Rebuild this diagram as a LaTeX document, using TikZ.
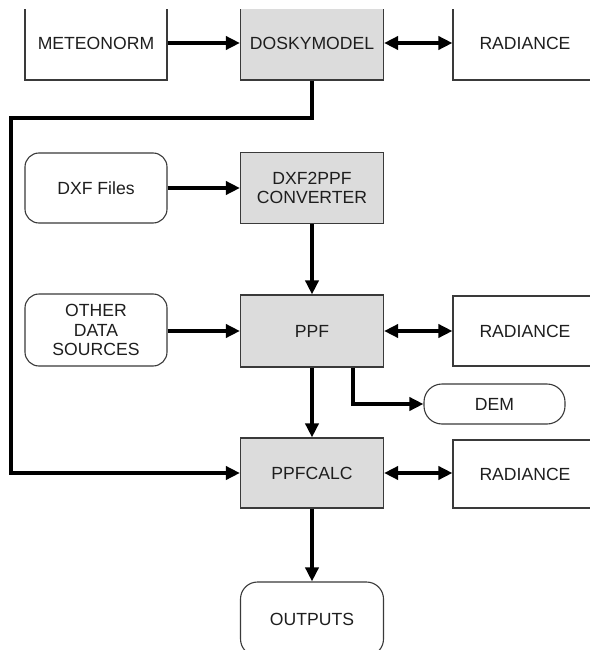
\documentclass[tikz,border=0pt]{standalone}
\usepackage{fontspec}
\setmainfont{Liberation Sans}
\usetikzlibrary{arrows.meta}
\definecolor{boxgray}{HTML}{DCDCDC}
\definecolor{bordercol}{HTML}{3A3A3A}
\definecolor{txtcol}{HTML}{1E1E1E}
\tikzset{
  box/.style={draw=bordercol, line width=1.1pt, minimum width=143pt, minimum height=71pt,
    inner sep=0pt, align=center, text=txtcol, font=\fontsize{17.6}{19.5}\selectfont},
  gbox/.style={box, fill=boxgray},
  rbox/.style={box, rounded corners=14pt},
  conn/.style={line width=3.6pt, black, -{Triangle[length=14pt,width=13pt]}},
  dconn/.style={line width=3.6pt, black, {Triangle[length=14pt,width=13pt]}-{Triangle[length=14pt,width=13pt]}},
}
\begin{document}
\begin{tikzpicture}[x=1pt,y=-1pt]
\useasboundingbox (0,0) rectangle (589,650);
\fill[white] (0,0) rectangle (589,650);
\begin{scope}
\clip (-5,10) rectangle (620,700);
\node[box, minimum height=74pt, minimum width=142pt] (met) at (96,43) {METEONORM};
\node[gbox, minimum height=74pt] (dsk) at (312,43) {DOSKYMODEL};
\node[box, minimum height=74pt, minimum width=144pt] (rad1) at (525,43) {RADIANCE};
\end{scope}
\node[rbox, minimum width=142pt, minimum height=70pt] (dxf) at (96,188) {DXF Files};
\node[gbox, minimum height=71pt] (conv) at (312,188) {DXF2PPF\\CONVERTER};
\node[rbox, minimum width=142pt, minimum height=72pt] (oth) at (96,330) {OTHER\\DATA\\SOURCES};
\node[gbox, minimum height=72pt] (ppf) at (312,331) {PPF};
\node[box, minimum height=70pt, minimum width=144pt] (rad2) at (525,331) {RADIANCE};
\node[box, rounded corners=18pt, minimum width=141pt, minimum height=40pt] (dem) at (494.5,404) {DEM};
\node[gbox, minimum height=70pt] (calc) at (312,473) {PPFCALC};
\node[box, minimum height=68pt, minimum width=144pt] (rad3) at (525,474) {RADIANCE};
\node[box, rounded corners=17pt, minimum height=74pt] (out) at (312,619) {OUTPUTS};
\coordinate (c1) at (11,118);
\draw[conn] (met) -- (dsk);
\draw[dconn] (dsk) -- (rad1);
\draw[conn] (dsk.south) |- (c1) |- (calc.west);
\draw[conn] (dxf) -- (conv);
\draw[conn] (conv) -- (ppf);
\draw[conn] (oth.east |- ppf.west) -- (ppf.west);
\draw[dconn] (ppf) -- (rad2);
\draw[conn] ([xshift=41pt]ppf.south) |- (dem.west);
\draw[conn] (ppf) -- (calc);
\draw[dconn] (calc) -- (rad3.west |- calc.east);
\draw[conn] (calc) -- (out);
\end{tikzpicture}
\end{document}
